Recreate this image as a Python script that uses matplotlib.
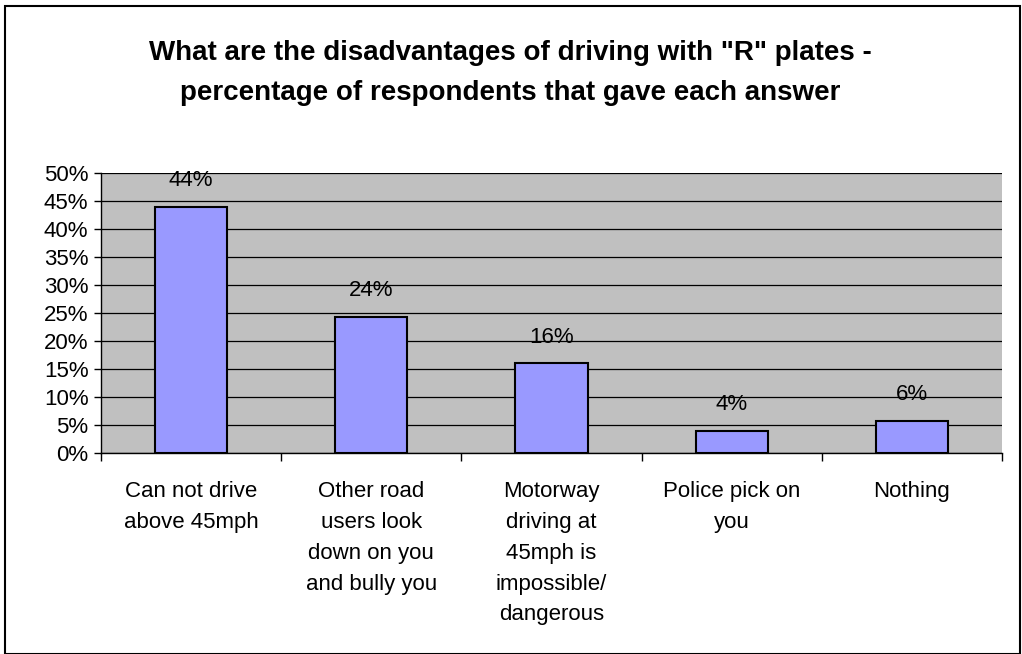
import matplotlib
import matplotlib.pyplot as plt
import numpy as np
from matplotlib.patches import Rectangle
from matplotlib.ticker import FixedLocator

categories = ["Can not drive\nabove 45mph",
              "Other road\nusers look\ndown on you\nand bully you",
              "Motorway\ndriving at\n45mph is\nimpossible/\ndangerous",
              "Police pick on\nyou",
              "Nothing"]
values = [43.9, 24.3, 16.0, 3.9, 5.7]
labels = ["44%", "24%", "16%", "4%", "6%"]
yticks = [0, 5, 10, 15, 20, 25, 30, 35, 40, 45, 50]

matplotlib.rcParams['font.family'] = ['Liberation Sans', 'DejaVu Sans']

fig = plt.figure(figsize=(10.22, 6.54), dpi=100)
ax = fig.add_axes([0.0988, 0.3073, 0.8816, 0.4282])

x = np.arange(len(categories))
ax.bar(x, values, 0.4, color='#9999FF', edgecolor='black', linewidth=1.5, zorder=3)

for xi, v, lab in zip(x, values, labels):
    ax.annotate(lab, (xi, v), xytext=(0, 19), textcoords='offset points',
                ha='center', va='center', fontsize=16)

ax.set_facecolor('#C0C0C0')
ax.set_xlim(-0.5, len(categories) - 0.5)
ax.set_ylim(0, 50)
ax.set_yticks(yticks, [f"{t}%" for t in yticks], fontsize=16)
ax.yaxis.grid(True, color='black', linewidth=0.9, zorder=1)
ax.set_axisbelow(True)

ax.set_xticks(x, categories, fontsize=16, linespacing=1.62, va='top')
ax.tick_params(axis='x', length=0, pad=20)
ax.xaxis.set_minor_locator(FixedLocator(np.arange(len(categories) + 1) - 0.5))
ax.tick_params(axis='x', which='minor', length=6, width=1, direction='out')
ax.tick_params(axis='y', length=5, width=1, direction='out', pad=4)

for s in ['top', 'right']:
    ax.spines[s].set_visible(False)
ax.spines['left'].set_linewidth(1)
ax.spines['bottom'].set_linewidth(1)

fig.text(0.499, 0.888, 'What are the disadvantages of driving with "R" plates -\npercentage of respondents that gave each answer',
         ha='center', va='center', fontsize=20, fontweight='bold', linespacing=1.72)

fig.patches.append(Rectangle((0.005, 0.0), 0.993, 0.991, transform=fig.transFigure,
                             fill=False, edgecolor='black', linewidth=1.5))

plt.savefig("out.png", dpi=100)
